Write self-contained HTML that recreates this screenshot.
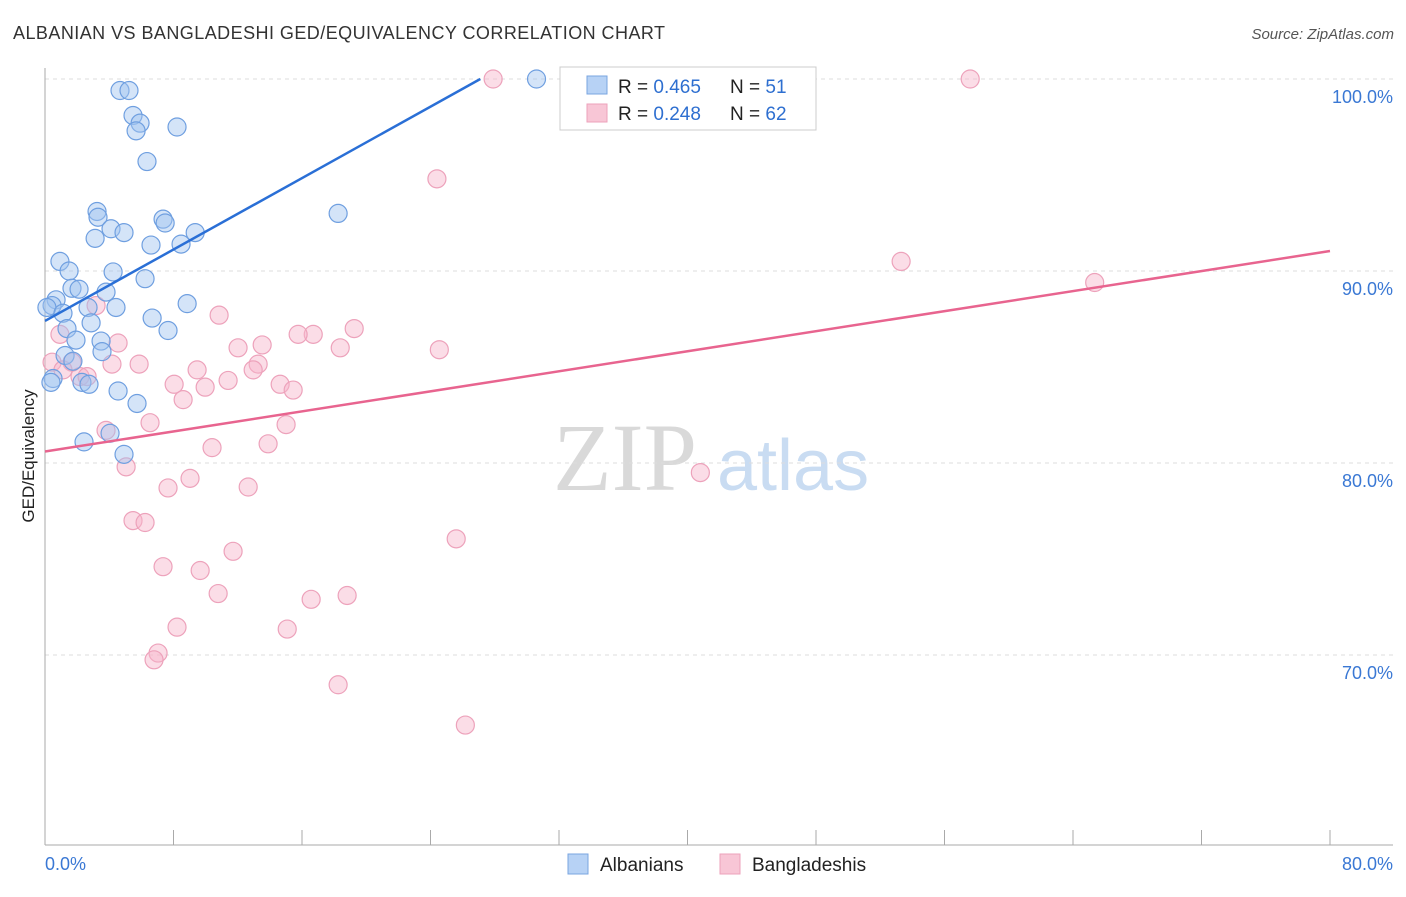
<!DOCTYPE html>
<html><head><meta charset="utf-8"><style>
body{margin:0;background:#fff;font-family:"Liberation Sans",sans-serif}
</style></head><body>
<svg id="chart" width="1406" height="892" xmlns="http://www.w3.org/2000/svg" font-family="Liberation Sans, sans-serif">
<text x="13" y="39" font-size="18" letter-spacing="0.45" fill="#333">ALBANIAN VS BANGLADESHI GED/EQUIVALENCY CORRELATION CHART</text>
<text x="1394" y="39" font-size="15" fill="#555" text-anchor="end" font-style="italic">Source: ZipAtlas.com</text>
<text x="553" y="490" font-size="96" font-family="Liberation Serif, serif" fill="#d9d9d9">ZIP</text>
<text x="717" y="490" font-size="72" fill="#c9dcf2">atlas</text>
<text transform="translate(34,456) rotate(-90)" font-size="17" fill="#222" text-anchor="middle">GED/Equivalency</text>
<g id="grid"></g>
<g id="axes"></g>
<g id="pts"></g>
<g id="trend"></g>
<g>
<rect x="560" y="67" width="256" height="63" fill="#fff" stroke="#ccc"/>
<rect x="587" y="76" width="20" height="18" fill="#b7d2f5" stroke="#7aa5e0"/>
<rect x="587" y="104" width="20" height="18" fill="#f8c6d6" stroke="#eda2bb"/>
<text x="618" y="93" font-size="19" fill="#222">R = <tspan fill="#2e6fd0">0.465</tspan></text>
<text x="730" y="93" font-size="19" fill="#222">N = <tspan fill="#2e6fd0">51</tspan></text>
<text x="618" y="120" font-size="19" fill="#222">R = <tspan fill="#2e6fd0">0.248</tspan></text>
<text x="730" y="120" font-size="19" fill="#222">N = <tspan fill="#2e6fd0">62</tspan></text>
</g>
<g>
<rect x="568" y="854" width="20" height="20" fill="#b7d2f5" stroke="#7aa5e0"/>
<text x="600" y="871" font-size="19" fill="#222">Albanians</text>
<rect x="720" y="854" width="20" height="20" fill="#f8c6d6" stroke="#eda2bb"/>
<text x="752" y="871" font-size="19" fill="#222">Bangladeshis</text>
</g>
</svg>
<script>
const blueX=[30.6,4.67,5.23,5.48,5.92,5.67,8.22,6.35,3.24,3.30,7.35,7.48,18.25,4.11,4.92,9.35,3.12,6.6,8.47,0.93,1.5,4.24,6.23,1.68,2.12,3.8,0.69,0.44,0.12,2.68,4.42,8.85,1.12,6.67,2.87,1.37,7.66,1.93,3.49,3.55,1.25,1.74,0.5,0.37,2.3,2.74,4.55,5.73,4.05,2.43,4.92];
const blueY=[100,99.4,99.4,98.1,97.7,97.3,97.5,95.7,93.1,92.8,92.7,92.5,93.0,92.2,92.0,92.0,91.7,91.35,91.4,90.5,90.0,89.95,89.6,89.1,89.05,88.9,88.5,88.2,88.1,88.1,88.1,88.3,87.8,87.55,87.3,87.0,86.9,86.4,86.35,85.8,85.6,85.3,84.4,84.2,84.2,84.1,83.75,83.1,81.55,81.1,80.45];
const pinkX=[27.9,57.6,24.4,53.3,65.35,3.18,10.84,16.7,15.76,19.25,18.38,12.02,13.52,24.55,4.55,0.93,0.44,1.68,4.17,5.86,13.27,1.12,2.18,9.47,2.62,12.96,11.4,8.04,14.64,9.97,15.45,8.6,6.54,15.01,3.8,10.4,13.89,5.05,40.8,9.03,7.66,12.65,5.48,6.23,11.71,25.6,7.35,9.66,10.78,18.81,16.57,8.22,15.08,7.04,6.79,18.25,26.17];
const pinkY=[100,100,94.8,90.5,89.4,88.2,87.7,86.7,86.7,87.0,86.0,86.0,86.15,85.9,86.25,86.7,85.25,85.25,85.15,85.15,85.15,84.85,84.5,84.85,84.5,84.85,84.3,84.1,84.1,83.95,83.8,83.3,82.1,82.0,81.7,80.8,81.0,79.8,79.5,79.2,78.7,78.75,77.0,76.9,75.4,76.05,74.6,74.4,73.2,73.1,72.9,71.45,71.35,70.1,69.75,68.45,66.35];
const yTicks=[100,90,80,70];
const yTickLabels=["100.0%","90.0%","80.0%","70.0%"];
const xTickLabels=["0.0%","80.0%"];
const blueTrend=[[0,87.4],[27.1,100]];
const pinkTrend=[[0,80.6],[80,91.04]];
const NS="http://www.w3.org/2000/svg";
const sx=v=>45+v/80*1285;
const sy=v=>79+(100-v)*19.2;
function mk(tag,attrs,parent){const e=document.createElementNS(NS,tag);for(const k in attrs)e.setAttribute(k,attrs[k]);document.getElementById(parent).appendChild(e);return e;}
yTicks.forEach((t,i)=>{
 const l=mk('line',{x1:45,x2:1393,y1:sy(t),y2:sy(t),stroke:'#ddd','stroke-dasharray':'4,4'},'grid');
 
 
 const tx=mk('text',{x:1393,y:sy(t)+24,'font-size':18,fill:'#3a78d4','text-anchor':'end'},'grid');
 tx.textContent=yTickLabels[i];
 
 
});
const ax=mk('line',{x1:45,x2:45,y1:68,y2:845,stroke:'#aaa'},'axes');


const bx=mk('line',{x1:45,x2:1393,y1:845,y2:845,stroke:'#aaa'},'axes');


for(let i=0;i<=10;i++){
 const t=mk('line',{x1:sx(i*8),x2:sx(i*8),y1:830,y2:845,stroke:'#aaa'},'axes');
 
 
}
[[0,'start'],[80,'end']].forEach((p,i)=>{
 const t=mk('text',{x:i?1393:45,y:870,'font-size':18,fill:'#3a78d4','text-anchor':p[1]},'axes');
 t.textContent=xTickLabels[i];
 
 
});
pinkX.forEach((x,i)=>{
 const c=mk('circle',{cx:sx(x),cy:sy(pinkY[i]),r:9,fill:'rgba(246,180,202,0.45)',stroke:'#eda2bb','stroke-width':1.2},'pts');
 
 
});
blueX.forEach((x,i)=>{
 const c=mk('circle',{cx:sx(x),cy:sy(blueY[i]),r:9,fill:'rgba(160,196,240,0.45)',stroke:'#6f9fe0','stroke-width':1.2},'pts');
 
 
});
const bl=mk('line',{x1:sx(blueTrend[0][0]),y1:sy(blueTrend[0][1]),x2:sx(blueTrend[1][0]),y2:sy(blueTrend[1][1]),stroke:'#2a6fd6','stroke-width':2.5},'trend');


const pl=mk('line',{x1:sx(pinkTrend[0][0]),y1:sy(pinkTrend[0][1]),x2:sx(pinkTrend[1][0]),y2:sy(pinkTrend[1][1]),stroke:'#e8648f','stroke-width':2.5},'trend');


</script>
</body></html>
